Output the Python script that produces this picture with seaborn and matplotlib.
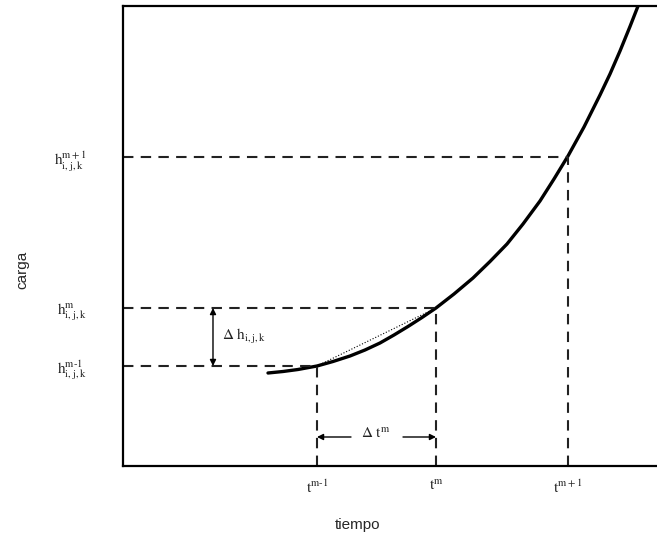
import numpy as np
import matplotlib
matplotlib.use("Agg")
import matplotlib.pyplot as plt
import pandas as pd
import seaborn as sns

sns.set_style("white")
plt.rcParams['font.family'] = ['Liberation Sans', 'DejaVu Sans']
plt.rcParams['mathtext.fontset'] = 'stix'

# curve (time, head), axis units
curve_t = [145, 160, 175, 194, 210, 227, 242, 257, 271, 285, 299, 313, 331,
           350, 367, 384, 400, 417, 431, 445, 461, 477, 487, 497, 507, 517, 520]
curve_h = [93, 94.5, 96.5, 100, 104.5, 110, 116, 123, 131, 139.5, 148.5, 158, 172,
           188, 204.5, 222, 242, 265, 287, 310, 339, 371, 392, 415, 439.5, 465, 473]

# discrete time levels and heads
t_levels = [194, 313, 445]
h_levels = [100, 158, 309]
t_labels = [r'$\mathrm{t}^{\mathrm{m}\text{-}1}$', r'$\mathrm{t}^{\mathrm{m}}$', r'$\mathrm{t}^{\mathrm{m+1}}$']
h_labels = [r'$\mathrm{h}_{\mathrm{i,j,k}}^{\mathrm{m}\text{-}1}$', r'$\mathrm{h}_{\mathrm{i,j,k}}^{\mathrm{m}}$',
            r'$\mathrm{h}_{\mathrm{i,j,k}}^{\mathrm{m+1}}$']

df = pd.DataFrame({"tiempo": curve_t, "carga": curve_h})

fig = plt.figure(figsize=(6.57, 5.36), dpi=100)
ax = fig.add_axes([0.1872, 0.1306, 0.8128, 0.8582])

sns.lineplot(data=df, x="tiempo", y="carga", color="black", lw=2.4, ax=ax)

dash = dict(color="#222222", lw=1.5, ls=(0, (5, 3.5)))
for t, h in zip(t_levels, h_levels):
    ax.plot([0, t], [h, h], **dash)
    ax.plot([t, t], [0, h], **dash)

# secant between t^{m-1} and t^m
ax.plot(t_levels[:2], h_levels[:2], color="black", lw=0.8, ls=":")

# delta h arrow
arr = dict(arrowstyle="<|-|>", color="black", lw=1.0, mutation_scale=9, shrinkA=0, shrinkB=0)
ax.annotate("", xy=(90, h_levels[1]), xytext=(90, h_levels[0]), arrowprops=arr)
ax.text(99, (h_levels[0] + h_levels[1]) / 2, r'$\Delta\ \mathrm{h}_{\mathrm{i,j,k}}$', fontsize=11,
        va="center", ha="left", color="#222222")

# delta t arrows
one = dict(arrowstyle="-|>", color="black", lw=1.0, mutation_scale=9, shrinkA=0, shrinkB=0)
ya = 29
ax.annotate("", xy=(t_levels[0], ya), xytext=(228, ya), arrowprops=one)
ax.annotate("", xy=(t_levels[1], ya), xytext=(280, ya), arrowprops=one)
ax.text(253, ya + 3, r'$\Delta\ \mathrm{t}^{\mathrm{m}}$', fontsize=11, va="center", ha="center", color="#222222")

ax.set_xlim(0, 534)
ax.set_ylim(0, 460)
ax.set_xticks(t_levels, t_labels, fontsize=11, color="#222222")
ax.set_yticks(h_levels, h_labels, fontsize=11, color="#222222")
ax.tick_params(axis="x", length=0, pad=9)
ax.tick_params(axis="y", length=0, pad=26)
ax.set_xlabel("tiempo", fontsize=11)
ax.set_ylabel("carga", fontsize=11)
ax.xaxis.set_label_coords(0.44, -0.113)
ax.yaxis.set_label_coords(-0.175, 0.426)

for s in ["left", "bottom", "top"]:
    ax.spines[s].set_color("black")
    ax.spines[s].set_linewidth(1.6)
ax.spines["right"].set_visible(False)

fig.savefig("out.png", dpi=100)
